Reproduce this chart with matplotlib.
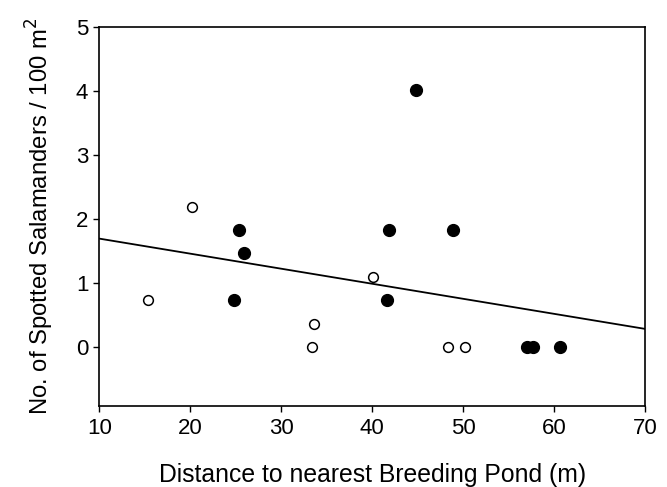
import numpy as np
import matplotlib
matplotlib.use("Agg")
import matplotlib.pyplot as plt

plt.rcParams['font.family'] = ['Liberation Sans', 'DejaVu Sans']

# ------------------------------------------------------------
# DATA
# ------------------------------------------------------------

# filled symbols
filled_dist = [25.3, 25.9, 24.8, 44.8, 41.9, 48.9, 41.6, 57.0, 57.7, 60.6]
filled_count = [1.83, 1.46, 0.73, 4.02, 1.83, 1.83, 0.73, 0.0, 0.0, 0.0]

# open symbols
open_dist = [15.3, 20.2, 33.6, 33.4, 40.05, 48.3, 50.2]
open_count = [0.73, 2.19, 0.36, 0.0, 1.09, 0.0, 0.0]

# regression line (intercept, slope)
fit_intercept = 1.925
fit_slope = -0.0235
fit_range = [10, 70]

x_ticks = [10, 20, 30, 40, 50, 60, 70]
y_ticks = [0, 1, 2, 3, 4, 5]

# ------------------------------------------------------------
# PLOT
# ------------------------------------------------------------

fig = plt.figure(figsize=(6.67, 4.87), dpi=100)
ax = fig.add_axes([0.149, 0.167, 0.818, 0.778])

fx = np.array(fit_range)
ax.plot(fx, fit_intercept + fit_slope * fx, color='black', linewidth=1.3)

ax.plot(filled_dist, filled_count, linestyle='none', marker='o',
        markersize=8.5, markerfacecolor='black', markeredgecolor='black')
ax.plot(open_dist, open_count, linestyle='none', marker='o',
        markersize=7, markerfacecolor='white', markeredgecolor='black',
        markeredgewidth=1.1)

ax.set_xlim(10, 70)
ax.set_ylim(-0.92, 5)
ax.set_xticks(x_ticks)
ax.set_yticks(y_ticks)

ax.tick_params(direction='out', length=4, width=1, labelsize=16)
ax.tick_params(axis='x', pad=5)
ax.tick_params(axis='y', pad=4)

for s in ax.spines.values():
    s.set_linewidth(1.2)

ax.set_xlabel('Distance to nearest Breeding Pond (m)', fontsize=17.8,
              labelpad=17)
ax.set_ylabel('No. of Spotted Salamanders / 100 m$^2$', fontsize=17.2,
              labelpad=14)

fig.savefig('out.png', dpi=100)
